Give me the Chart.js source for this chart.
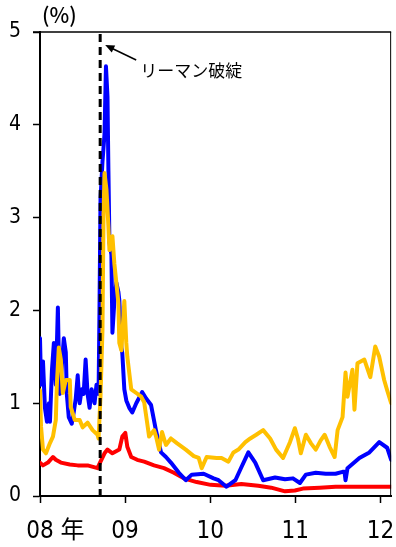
<!DOCTYPE html>
<html>
<head>
<meta charset="utf-8">
<script src="https://cdn.jsdelivr.net/npm/chart.js@4/dist/chart.umd.min.js"></script>
<style>
  body { margin: 0; background: #fff; }
  canvas { display: block; }
</style>
</head>
<body>
<canvas id="chart" width="396" height="547"></canvas>
<script>
// values; dates are decimal years
var blueDates = [2008.000, 2008.012, 2008.035, 2008.058, 2008.082, 2008.105, 2008.117, 2008.140, 2008.163, 2008.186,
  2008.210, 2008.221, 2008.233, 2008.256, 2008.280, 2008.303, 2008.315, 2008.338, 2008.373, 2008.396,
  2008.420, 2008.443, 2008.455, 2008.466, 2008.490, 2008.513, 2008.536, 2008.559, 2008.583, 2008.606,
  2008.641, 2008.664, 2008.688, 2008.699, 2008.711, 2008.734, 2008.758, 2008.775, 2008.793, 2008.804,
  2008.816, 2008.839, 2008.851, 2008.874, 2008.897, 2008.921, 2008.932, 2008.956, 2008.967, 2008.991,
  2009.014, 2009.049, 2009.084, 2009.131, 2009.200, 2009.247, 2009.305, 2009.364, 2009.422, 2009.480,
  2009.538, 2009.632, 2009.713, 2009.783, 2009.923, 2010.040, 2010.098, 2010.191, 2010.296, 2010.366,
  2010.448, 2010.529, 2010.622, 2010.762, 2010.879, 2010.972, 2011.054, 2011.124, 2011.240, 2011.357,
  2011.473, 2011.555, 2011.578, 2011.590, 2011.613, 2011.753, 2011.870, 2011.986, 2012.079, 2012.126];
var blueValues = [1.70, 1.20, 1.45, 0.95, 0.80, 1.00, 0.80, 1.35, 1.65, 1.20,
  2.03, 1.50, 1.10, 1.40, 1.70, 1.55, 1.10, 0.85, 0.78, 0.90,
  1.05, 1.30, 1.12, 1.00, 1.15, 1.10, 1.47, 1.10, 0.95, 1.15,
  1.00, 1.20, 1.10, 2.00, 3.20, 3.60, 3.90, 4.63, 4.30, 3.50,
  2.73, 2.60, 1.76, 2.10, 2.30, 2.20, 2.11, 1.60, 1.54, 1.15,
  1.03, 0.95, 0.90, 1.00, 1.12, 1.05, 0.98, 0.70, 0.47, 0.42,
  0.36, 0.25, 0.17, 0.23, 0.24, 0.19, 0.17, 0.10, 0.17, 0.31,
  0.47, 0.36, 0.17, 0.20, 0.18, 0.19, 0.14, 0.23, 0.25, 0.24,
  0.24, 0.26, 0.26, 0.17, 0.30, 0.41, 0.47, 0.58, 0.52, 0.39];

var orangeDates = [2008.000, 2008.012, 2008.035, 2008.070, 2008.117, 2008.152, 2008.186, 2008.198, 2008.221, 2008.245,
  2008.268, 2008.303, 2008.350, 2008.361, 2008.408, 2008.466, 2008.501, 2008.559, 2008.618, 2008.676,
  2008.688, 2008.711, 2008.734, 2008.746, 2008.758, 2008.781, 2008.804, 2008.816, 2008.851, 2008.874,
  2008.897, 2008.921, 2008.932, 2008.956, 2008.991, 2009.014, 2009.026, 2009.072, 2009.131, 2009.189,
  2009.224, 2009.259, 2009.282, 2009.340, 2009.364, 2009.399, 2009.434, 2009.480, 2009.538, 2009.608,
  2009.713, 2009.807, 2009.865, 2009.900, 2009.958, 2010.075, 2010.133, 2010.214, 2010.273, 2010.331,
  2010.413, 2010.471, 2010.541, 2010.622, 2010.704, 2010.774, 2010.856, 2010.937, 2010.995, 2011.030,
  2011.065, 2011.124, 2011.182, 2011.240, 2011.298, 2011.345, 2011.403, 2011.462, 2011.497, 2011.555,
  2011.590, 2011.613, 2011.671, 2011.695, 2011.730, 2011.811, 2011.881, 2011.939, 2011.986, 2012.044,
  2012.079, 2012.126];
var orangeValues = [1.14, 0.75, 0.50, 0.46, 0.57, 0.64, 0.82, 1.20, 1.60, 1.47,
  1.11, 1.25, 1.25, 0.96, 0.82, 0.82, 0.74, 0.79, 0.71, 0.66,
  0.62, 1.07, 1.79, 3.00, 3.48, 3.30, 2.90, 2.65, 2.80, 2.50,
  2.30, 2.08, 1.65, 1.57, 2.10, 1.65, 1.50, 1.15, 1.11, 1.07,
  1.01, 0.79, 0.64, 0.71, 0.64, 0.50, 0.69, 0.55, 0.62, 0.57,
  0.50, 0.43, 0.41, 0.30, 0.42, 0.41, 0.41, 0.37, 0.47, 0.50,
  0.58, 0.62, 0.66, 0.71, 0.62, 0.50, 0.41, 0.58, 0.73, 0.62,
  0.46, 0.66, 0.57, 0.50, 0.60, 0.66, 0.53, 0.42, 0.71, 0.85,
  1.33, 1.07, 1.36, 0.93, 1.43, 1.47, 1.28, 1.61, 1.50, 1.25,
  1.14, 1.00];

var redDates = [2008.000, 2008.035, 2008.093, 2008.152, 2008.186, 2008.245, 2008.350, 2008.443, 2008.559, 2008.676,
  2008.711, 2008.758, 2008.793, 2008.851, 2008.932, 2008.967, 2009.002, 2009.026, 2009.072, 2009.142,
  2009.224, 2009.340, 2009.457, 2009.573, 2009.690, 2009.841, 2010.005, 2010.180, 2010.366, 2010.564,
  2010.716, 2010.879, 2010.995, 2011.089, 2011.287, 2011.473, 2012.126];
var redValues = [0.36, 0.33, 0.36, 0.42, 0.39, 0.36, 0.34, 0.33, 0.33, 0.30,
  0.37, 0.46, 0.50, 0.46, 0.50, 0.64, 0.68, 0.53, 0.42, 0.39,
  0.37, 0.33, 0.30, 0.25, 0.19, 0.15, 0.12, 0.11, 0.13, 0.11,
  0.09, 0.05, 0.06, 0.08, 0.09, 0.10, 0.10];

var xTickValues = [2008, 2009, 2010, 2011, 2012];
var xTickLabels = ['08 年', '09', '10', '11', '12'];
var lehmanDate = 2008.707;
var lehmanLabel = 'リーマン破綻';

var numFont = "'Liberation Sans Narrow', 'DejaVu Sans Condensed', 'Noto Sans CJK JP', sans-serif";
var jpFont = "'Noto Sans CJK JP', sans-serif";

function toPoints(dates, values) {
  var pts = [];
  for (var i = 0; i < dates.length; i++) {
    pts.push({ x: dates[i], y: values[i] });
  }
  return pts;
}

var extras = {
  id: 'extras',
  afterDatasetsDraw: function(chart) {
    var ctx = chart.ctx;
    var area = chart.chartArea;
    var xs = chart.scales.x;
    ctx.save();

    // top and right frame
    ctx.strokeStyle = '#000';
    ctx.lineWidth = 1.5;
    ctx.beginPath();
    ctx.moveTo(33, area.top);
    ctx.lineTo(area.right, area.top);
    ctx.stroke();
    ctx.lineWidth = 1;
    ctx.beginPath();
    ctx.moveTo(area.right - 0.5, area.top);
    ctx.lineTo(area.right - 0.5, area.bottom);
    ctx.stroke();

    // Lehman line
    var lx = xs.getPixelForValue(lehmanDate);
    ctx.lineWidth = 3;
    ctx.setLineDash([8, 5]);
    ctx.beginPath();
    ctx.moveTo(lx, area.top + 2);
    ctx.lineTo(lx, area.bottom);
    ctx.stroke();
    ctx.setLineDash([]);

    // arrow + label
    var hx = lx + 5, hy = area.top + 13;
    var tx = lx + 36, ty = area.top + 28;
    ctx.lineWidth = 1.5;
    ctx.beginPath();
    ctx.moveTo(tx, ty);
    ctx.lineTo(hx + 4, hy + 2);
    ctx.stroke();
    var ang = Math.atan2(ty - hy, tx - hx);
    ctx.beginPath();
    ctx.moveTo(hx, hy);
    ctx.lineTo(hx + 10 * Math.cos(ang - 0.4), hy + 10 * Math.sin(ang - 0.4));
    ctx.lineTo(hx + 10 * Math.cos(ang + 0.4), hy + 10 * Math.sin(ang + 0.4));
    ctx.closePath();
    ctx.fillStyle = '#000';
    ctx.fill();

    ctx.font = '17px ' + jpFont;
    ctx.textAlign = 'left';
    ctx.textBaseline = 'middle';
    ctx.fillText(lehmanLabel, lx + 40, area.top + 39);

    // unit
    ctx.font = '500 21px ' + jpFont;
    ctx.fillText('(%)', 42, 15);

    // x labels
    ctx.font = '24px ' + numFont;
    ctx.textBaseline = 'middle';
    for (var i = 0; i < xTickValues.length; i++) {
      var px = xs.getPixelForValue(xTickValues[i]);
      var label = xTickLabels[i];
      var first = label.split(' ')[0];
      var w = ctx.measureText(first).width;
      ctx.textAlign = 'left';
      ctx.fillText(label, px - w / 2, 532);
    }
    ctx.restore();
  }
};

new Chart(document.getElementById('chart'), {
  type: 'line',
  data: {
    datasets: [
      { data: toPoints(orangeDates, orangeValues), borderColor: '#FFC000', borderWidth: 4 },
      { data: toPoints(blueDates, blueValues), borderColor: '#0000FF', borderWidth: 4 },
      { data: toPoints(redDates, redValues), borderColor: '#FF0000', borderWidth: 4 }
    ]
  },
  options: {
    responsive: false,
    animation: false,
    layout: { padding: { top: 32, right: 2, left: 0, bottom: 0 } },
    elements: {
      point: { radius: 0 },
      line: { tension: 0, borderJoinStyle: 'round', borderCapStyle: 'round' }
    },
    plugins: { legend: { display: false }, tooltip: { enabled: false } },
    scales: {
      x: {
        type: 'linear',
        min: 2008,
        max: 2012.126,
        afterBuildTicks: function(scale) {
          scale.ticks = xTickValues.map(function(v) { return { value: v }; });
        },
        afterFit: function(scale) { scale.height = 51; },
        grid: { drawOnChartArea: false, tickLength: 7, tickColor: '#000', tickWidth: 1.5 },
        border: { color: '#000', width: 2 },
        ticks: { color: 'rgba(0,0,0,0)', font: { size: 10 } }
      },
      y: {
        min: 0,
        max: 5,
        afterFit: function(scale) { scale.width = 40; },
        ticks: {
          stepSize: 1,
          padding: 12,
          color: '#000',
          font: { family: numFont, size: 21 }
        },
        grid: { drawOnChartArea: false, tickLength: 7, tickColor: '#000', tickWidth: 1.5 },
        border: { color: '#000', width: 2 }
      }
    }
  },
  plugins: [extras]
});
</script>
</body>
</html>
